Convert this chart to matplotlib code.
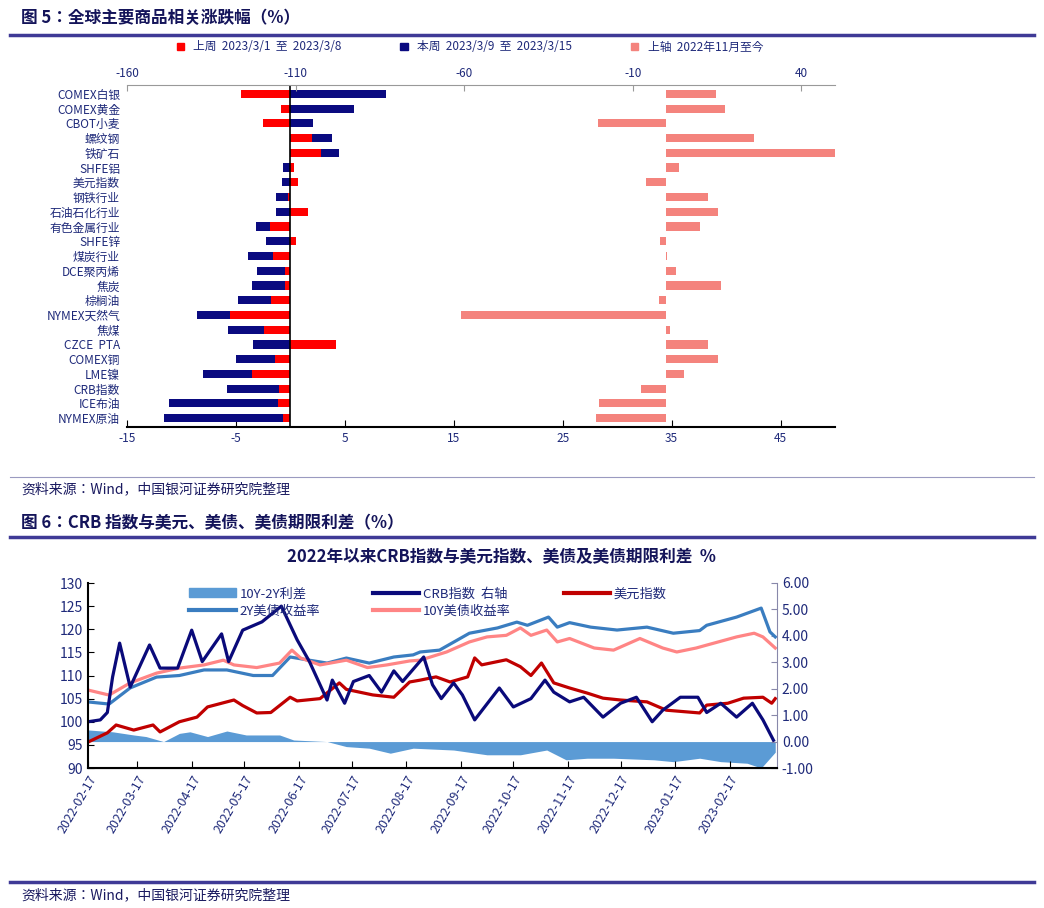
import numpy as np
import pandas as pd
import matplotlib.pyplot as plt
import matplotlib.dates as mdates
from matplotlib import font_manager
from matplotlib.lines import Line2D
from matplotlib.patches import Patch

# pick whichever CJK family name is registered
names = {f.name for f in font_manager.fontManager.ttflist}
cjk = [n for n in ['Noto Sans CJK SC', 'Noto Sans CJK JP', 'Noto Sans CJK TC', 'Noto Sans CJK KR']
       if n in names]
plt.rcParams['font.family'] = cjk + ['DejaVu Sans']
plt.rcParams['axes.unicode_minus'] = False
NAVY_TXT = '#1F2A7A'

# ---------------- 图5 data ----------------
commodities = ['COMEX白银', 'COMEX黄金', 'CBOT小麦', '螺纹钢', '铁矿石', 'SHFE铝', '美元指数',
               '钢铁行业', '石油石化行业', '有色金属行业', 'SHFE锌', '煤炭行业', 'DCE聚丙烯', '焦炭',
               '棕榈油', 'NYMEX天然气', '焦煤', 'CZCE  PTA', 'COMEX铜', 'LME镍', 'CRB指数',
               'ICE布油', 'NYMEX原油']
last_week = [-4.5, -0.9, -2.5, 2.0, 2.8, 0.3, 0.7, -0.2, 1.6, -1.9, 0.5, -1.6, -0.5, -0.5,
             -1.8, -5.5, -2.4, 4.2, -1.4, -3.5, -1.0, -1.1, -0.7]
this_week = [8.8, 5.8, 2.1, 1.8, 1.7, -0.7, -0.8, -1.1, -1.3, -1.3, -2.2, -2.3, -2.6, -3.0,
             -3.0, -3.1, -3.3, -3.4, -3.6, -4.5, -4.8, -10.0, -10.9]
since_nov = [14.8, 17.5, -20.4, 26.0, 51.0, 3.6, -6.2, 12.4, 15.4, 10.0, -1.8, 0.3, 2.7, 16.3,
             -2.1, -61.0, 1.2, 12.4, 15.4, 5.3, -7.4, -20.1, -21.0]

# ---------------- 图6 data (day offsets from 2022-02-17) ----------------
crb_days = [0, 7, 11, 14, 18, 24, 35, 41, 51, 59, 65, 76, 80, 88, 99, 110, 119, 126, 136, 139,
            146, 151, 160, 167, 174, 179, 191, 196, 201, 208, 213, 220, 234, 242, 252, 260, 265,
            274, 282, 293, 303, 312, 321, 327, 337, 347, 352, 360, 369, 378, 384, 390]
crb_vals = [100, 100.4, 102, 109.7, 117, 107.5, 116.6, 111.6, 111.6, 119.8, 113, 119, 113, 119.8,
            121.6, 125, 117.7, 113, 104.7, 109, 104, 108.7, 110, 106.4, 111, 108.7, 114, 108,
            105, 108.4, 105.8, 100.4, 107.3, 103.2, 105, 109, 106.4, 104.3, 105.3, 101, 104,
            105.3, 100, 102.5, 105.3, 105.3, 102, 104, 101, 104, 100.4, 96]
usd_days = [0, 11, 16, 26, 37, 41, 52, 62, 68, 83, 88, 96, 104, 115, 119, 132, 143, 147, 162,
            174, 183, 189, 198, 206, 216, 220, 224, 238, 246, 252, 258, 265, 274, 284, 293, 303,
            318, 329, 348, 352, 364, 373, 384, 389, 391]
usd_vals = [95.6, 97.6, 99.3, 98.2, 99.3, 97.8, 100, 101, 103.2, 104.7, 103.5, 101.9, 102, 105.3,
            104.5, 105, 108.4, 107, 105.8, 105.3, 108.6, 109, 109.7, 108.6, 109.7, 113.8, 112.3,
            113.4, 111.9, 110, 112.7, 108.4, 107.3, 106.2, 105.1, 104.7, 104.3, 102.5, 101.9,
            103.6, 104, 105.1, 105.3, 104, 105]
y2_days = [0, 12, 24, 39, 52, 66, 79, 94, 105, 115, 124, 136, 147, 160, 174, 185, 189, 200, 217,
           233, 244, 250, 262, 267, 274, 286, 301, 318, 333, 348, 352, 369, 383, 388, 391]
y2_vals = [1.5, 1.42, 2.03, 2.44, 2.5, 2.71, 2.71, 2.5, 2.5, 3.2, 3.1, 2.97, 3.16, 2.97, 3.2,
           3.28, 3.39, 3.46, 4.1, 4.3, 4.52, 4.4, 4.71, 4.33, 4.5, 4.33, 4.22, 4.33, 4.1, 4.2,
           4.4, 4.71, 5.05, 4.15, 3.96]
y10_days = [0, 12, 24, 39, 52, 66, 77, 83, 96, 109, 116, 121, 132, 147, 159, 170, 183, 189, 204,
            217, 227, 238, 246, 252, 261, 267, 274, 288, 299, 314, 327, 335, 346, 352, 369, 379,
            384, 391]
y10_vals = [1.95, 1.76, 2.22, 2.59, 2.78, 2.9, 3.08, 2.9, 2.8, 2.97, 3.46, 3.16, 2.9, 3.08, 2.8,
            2.9, 3.05, 3.08, 3.39, 3.77, 3.96, 4.02, 4.3, 4.02, 4.22, 3.77, 3.9, 3.54, 3.46, 3.9,
            3.54, 3.39, 3.54, 3.65, 3.96, 4.1, 3.96, 3.54]
spread_days = [0, 14, 26, 33, 43, 52, 58, 68, 79, 90, 109, 117, 136, 147, 160, 172, 185, 208,
               227, 246, 261, 272, 284, 299, 322, 333, 348, 360, 375, 383, 391]
spread_vals = [0.44, 0.37, 0.25, 0.19, 0.0, 0.31, 0.37, 0.19, 0.4, 0.25, 0.25, 0.06, 0.0, -0.19,
               -0.25, -0.44, -0.25, -0.32, -0.5, -0.5, -0.32, -0.69, -0.63, -0.63, -0.69, -0.76,
               -0.63, -0.76, -0.82, -1.0, -0.4]

start = pd.Timestamp('2022-02-17')


def to_dates(days):
    return start + pd.to_timedelta(days, unit='D')


fig = plt.figure(figsize=(10.44, 9.08), dpi=100)


def hline(y, color='#3F3A96', lw=2.5):
    fig.add_artist(Line2D([0.01, 0.99], [y, y], color=color, lw=lw, transform=fig.transFigure))


# ---------------- 图5 ----------------
fig.text(0.02, 1 - 18 / 908, '图 5：全球主要商品相关涨跌幅（%）', fontsize=12, fontweight='bold',
         color='#14145A', va='center')
hline(1 - 35 / 908)

ax = fig.add_axes([127 / 1044, 1 - 427 / 908, (835 - 127) / 1044, (427 - 85) / 908])
y = np.arange(len(commodities))
lw_ = np.array(last_week)
tw_ = np.array(this_week)
left_blue = np.where(np.sign(lw_) == np.sign(tw_), lw_, 0)
ax.barh(y, lw_, height=0.55, color='#FF0000', zorder=3)
ax.barh(y, tw_, left=left_blue, height=0.55, color='#0A0A80', zorder=3)
ax.axvline(0, color='black', lw=1.2, zorder=4)
ax.set_xlim(-15, 50)
ax.set_ylim(len(commodities) - 0.4, -0.6)
ax.set_xticks([-15, -5, 5, 15, 25, 35, 45])
ax.set_yticks(y)
ax.set_yticklabels(commodities, fontsize=8.5, color=NAVY_TXT)
ax.tick_params(axis='y', length=0, pad=5)
ax.tick_params(axis='x', labelsize=8.5, labelcolor=NAVY_TXT, direction='in', length=5)
for s in ['left', 'right', 'top']:
    ax.spines[s].set_visible(False)
ax.spines['bottom'].set_linewidth(1.5)

axt = ax.twiny()
axt.barh(y, since_nov, height=0.55, color='#F4837D', zorder=2)
axt.set_xlim(-160, 50)
axt.set_xticks([-160, -110, -60, -10, 40])
axt.tick_params(axis='x', labelsize=8.5, labelcolor=NAVY_TXT, direction='in', length=4,
                color='#999999')
for s in ['left', 'right', 'bottom']:
    axt.spines[s].set_visible(False)
axt.spines['top'].set_color('#999999')

handles = [Patch(color='#FF0000'), Patch(color='#0A0A80'), Patch(color='#F4837D')]
labels = ['上周  2023/3/1  至  2023/3/8', '本周  2023/3/9  至  2023/3/15', '上轴  2022年11月至今']
fig.legend(handles, labels, loc='center', bbox_to_anchor=(0.45, 1 - 47 / 908), ncol=3,
           frameon=False, fontsize=8.5, handlelength=0.6, handleheight=0.6, columnspacing=5,
           labelcolor=NAVY_TXT)

hline(1 - 477 / 908, color='#9A9AC0', lw=0.8)
fig.text(0.02, 1 - 489 / 908, '资料来源：Wind，中国银河证券研究院整理', fontsize=10, style='italic',
         color='#1A1A60', va='center')

# ---------------- 图6 ----------------
fig.text(0.02, 1 - 523 / 908, '图 6：CRB 指数与美元、美债、美债期限利差（%）', fontsize=12,
         fontweight='bold', color='#14145A', va='center')
hline(1 - 537 / 908)
fig.text(0.48, 1 - 557 / 908, '2022年以来CRB指数与美元指数、美债及美债期限利差  %', fontsize=12,
         fontweight='bold', color='#14145A', ha='center', va='center')

bx = fig.add_axes([88 / 1044, 1 - 768 / 908, (777 - 88) / 1044, (768 - 583) / 908])
bx2 = bx.twinx()
bx.set_zorder(bx2.get_zorder() + 1)
bx.patch.set_visible(False)

sd = to_dates(spread_days)
bx2.fill_between(sd, 0, spread_vals, color='#5B9BD5', lw=0)
bx2.plot(to_dates(y2_days), y2_vals, color='#3A7DC0', lw=2.3)
bx2.plot(to_dates(y10_days), y10_vals, color='#FF8585', lw=2.3)
bx.plot(to_dates(usd_days), usd_vals, color='#C00000', lw=2.3)
bx.plot(to_dates(crb_days), crb_vals, color='#0A0A7A', lw=2.3)

bx.set_ylim(90, 130)
bx.set_yticks(range(90, 131, 5))
bx2.set_ylim(-1, 6)
bx2.set_yticks(range(-1, 7))
bx2.yaxis.set_major_formatter(lambda v, p: f'{v:.2f}')
bx.set_xlim(start, pd.Timestamp('2023-03-16'))
month_ticks = pd.date_range('2022-02-01', '2023-02-01', freq='MS') + pd.Timedelta(days=16)
bx.set_xticks(month_ticks)
bx.xaxis.set_major_formatter(mdates.DateFormatter('%Y-%m-%d'))
plt.setp(bx.get_xticklabels(), rotation=60, ha='right', rotation_mode='anchor')
bx.tick_params(axis='x', labelsize=9, labelcolor=NAVY_TXT, direction='in', length=5)
bx.tick_params(axis='y', labelsize=10, labelcolor=NAVY_TXT, direction='in', length=4)
bx2.tick_params(axis='y', labelsize=10, labelcolor=NAVY_TXT, direction='in', length=4,
                color='#8888AA')
bx.spines['top'].set_visible(False)
bx2.spines['top'].set_visible(False)
bx.spines['right'].set_visible(False)
bx2.spines['left'].set_visible(False)
bx2.spines['right'].set_color('#8888AA')
bx.spines['left'].set_linewidth(1.5)
bx.spines['bottom'].set_linewidth(1.5)

lh = [Patch(color='#5B9BD5'), Line2D([], [], color='#3A7DC0', lw=3),
      Line2D([], [], color='#0A0A7A', lw=3), Line2D([], [], color='#FF8585', lw=3),
      Line2D([], [], color='#C00000', lw=3)]
ll = ['10Y-2Y利差', '2Y美债收益率', 'CRB指数  右轴', '10Y美债收益率', '美元指数']
bx.legend(lh, ll, loc='upper left', bbox_to_anchor=(0.13, 1.04), ncol=3, frameon=False,
          fontsize=9.5, labelcolor=NAVY_TXT, handlelength=3.5, columnspacing=4,
          handletextpad=0.3, labelspacing=0.3)

hline(1 - 882 / 908)
fig.text(0.02, 1 - 895 / 908, '资料来源：Wind，中国银河证券研究院整理', fontsize=10, style='italic',
         color='#1A1A60', va='center')

fig.savefig('out.png', dpi=100)
